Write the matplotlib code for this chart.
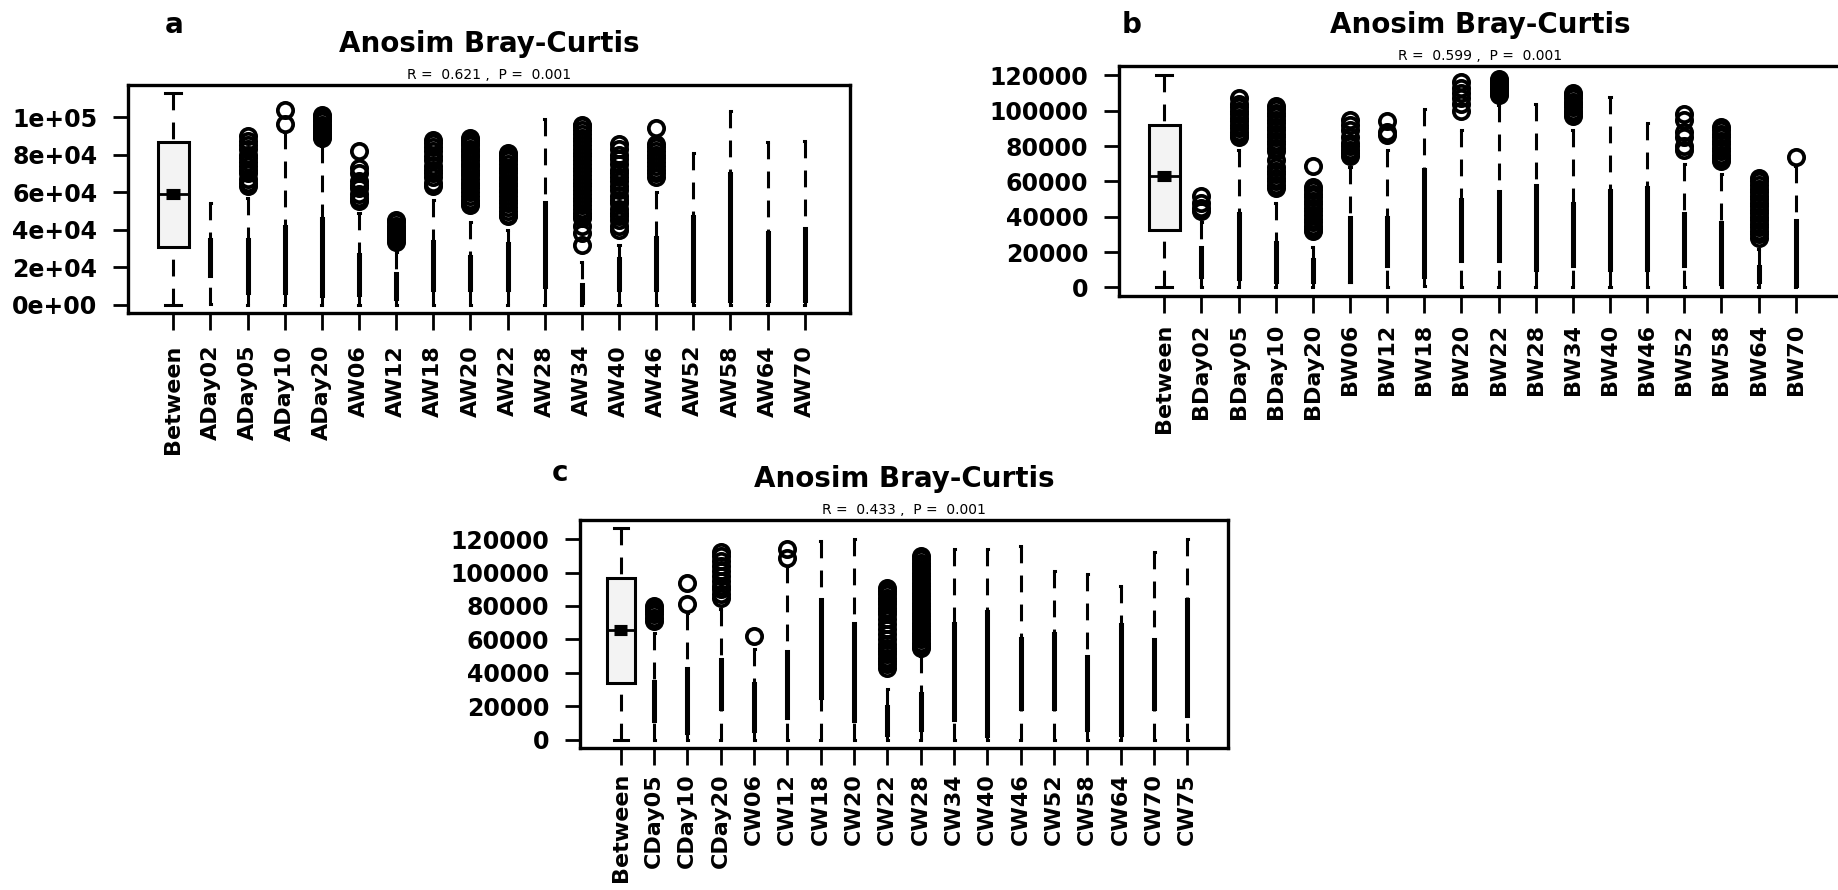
import matplotlib.pyplot as plt

W, H = 1838, 890

# ---- panel a (values in thousands) ----
groups_a = ['Between', 'ADay02', 'ADay05', 'ADay10', 'ADay20', 'AW06', 'AW12', 'AW18', 'AW20',
            'AW22', 'AW28', 'AW34', 'AW40', 'AW46', 'AW52', 'AW58', 'AW64', 'AW70']
whislo_a = [0, 0.5, 0, 0, 0, 0, 0, 0, 0, 0, 0, 0, 0, 0, 0, 0, 0, 0]
q1_a = [30.8, 15, 6, 6, 4.5, 5, 3, 8, 8, 8, 9.6, 1, 8, 8, 2, 2, 2, 2]
med_a = [59.2, 25, 20, 22, 25, 16, 10, 20, 17, 20, 32, 6, 16, 22, 24, 32, 20, 21]
q3_a = [86.8, 35, 35, 42, 46, 27, 17, 34, 26, 33, 54.5, 11, 25, 36, 47, 70, 38.5, 41]
whishi_a = [112.6, 54, 57, 92, 84.5, 49, 28, 56, 44, 40, 99, 22.5, 32, 60, 80.7, 103, 86.5, 87]
outliers_a = {
    'ADay05': [90, 87, 85, 83, 80, 78, 76, 74, 72, 70, 67, 65, 63],
    'ADay10': [104, 96.5],
    'ADay20': [101, 100, 99, 98, 96, 95, 94, 93, 92, 91, 90, 89],
    'AW06': [82, 73, 70, 66, 64, 62, 59, 57, 55],
    'AW12': [45, 44, 42, 41, 40, 39, 38, 37, 36, 35, 33.5],
    'AW18': [88, 86, 84, 82, 79, 77, 74, 72, 70, 68, 65, 63],
    'AW20': [89, 88, 86, 85, 83, 82, 80, 79, 77, 75, 74, 72, 70, 69, 67, 65, 64, 62, 60, 58,
             56, 54, 53],
    'AW22': [81, 80, 78, 77, 75, 73, 72, 70, 68, 67, 65, 63, 61, 60, 58, 56, 54, 52, 50, 48, 47],
    'AW34': [96, 95, 93, 91, 89, 87, 85, 83, 81, 79, 77, 75, 73, 71, 69, 67, 65, 63, 61, 59,
             57, 55, 53, 51, 49, 47, 46, 42, 38, 31.5],
    'AW40': [85.5, 83, 80, 77.5, 75, 72, 70, 68, 66, 63, 61, 58, 56, 54, 51, 49, 47, 45, 42, 40],
    'AW46': [94, 85.5, 84, 82, 80, 78, 76, 74, 72, 70, 68],
}
yticks_a = [0, 20000, 40000, 60000, 80000, 100000]
ylabels_a = ['0e+00', '2e+04', '4e+04', '6e+04', '8e+04', '1e+05']

# ---- panel b ----
groups_b = ['Between', 'BDay02', 'BDay05', 'BDay10', 'BDay20', 'BW06', 'BW12', 'BW18', 'BW20',
            'BW22', 'BW28', 'BW34', 'BW40', 'BW46', 'BW52', 'BW58', 'BW64', 'BW70']
whislo_b = [0, 0, 0, 0, 0, 3, 0, 1, 0, 0, 0, 0, 0, 0, 0, 0, 0, 0]
q1_b = [32.8, 6, 5, 3, 3, 3, 12, 6, 15, 15, 10, 12, 10, 10, 12, 2, 3, 1]
med_b = [63, 15, 22, 14, 9, 20, 25, 35, 32, 35, 34, 30, 33, 33, 27, 20, 7, 20]
q3_b = [91.7, 23, 42, 26, 16, 40, 40, 67, 50, 54.5, 58, 48, 55, 57, 42, 37, 12, 38]
whishi_b = [120.5, 37, 78, 48, 23, 68, 78, 101, 89, 103, 104, 89, 108, 93, 70, 64, 22, 69]
outliers_b = {
    'BDay02': [52, 48, 45, 43],
    'BDay05': [107, 104, 102, 100, 98, 96, 94, 92, 90, 88, 86, 85],
    'BDay10': [102.5, 101, 99, 97, 95, 93, 91, 89, 87, 85, 83, 81, 79, 77, 72, 68, 66, 64, 62,
               60, 58, 56.5],
    'BDay20': [68.7, 57, 55, 53, 51, 49, 47, 45, 43, 41, 39, 37, 35, 33, 32],
    'BW06': [95, 92, 89, 85, 82, 80, 78, 76, 74.5],
    'BW12': [94, 88, 86],
    'BW20': [116, 113, 110, 107, 104, 100],
    'BW22': [118, 117, 116, 115, 114, 113, 112, 111, 110, 109],
    'BW34': [110, 109, 107, 105, 104, 102, 100, 98.5, 97],
    'BW52': [98, 95, 88, 85, 80, 78],
    'BW58': [91, 89, 87, 85, 83, 81, 79, 77, 75, 73, 71.5],
    'BW64': [62, 60, 58, 56, 54, 52, 50, 48, 46, 44, 42, 40, 38, 36, 34, 32, 30, 28],
    'BW70': [74],
}
yticks_bc = [0, 20000, 40000, 60000, 80000, 100000, 120000]
ylabels_bc = ['0', '20000', '40000', '60000', '80000', '100000', '120000']

# ---- panel c ----
groups_c = ['Between', 'CDay05', 'CDay10', 'CDay20', 'CW06', 'CW12', 'CW18', 'CW20', 'CW22',
            'CW28', 'CW34', 'CW40', 'CW46', 'CW52', 'CW58', 'CW64', 'CW70', 'CW75']
whislo_c = [0, 0, 0, 0, 0, 0, 0, 0, 0, 0, 0, 0, 0, 0, 0, 0, 0, 0]
q1_c = [34, 11, 4, 18, 5, 13, 25, 11, 3, 6, 12, 2, 18, 18, 6, 3, 18, 14]
med_c = [65.6, 25, 20, 32, 18, 32, 50, 40, 10, 16, 40, 40, 40, 40, 28, 35, 38, 50]
q3_c = [97, 35, 43, 48, 34, 53, 84, 70, 20, 28, 70, 77, 61, 64, 50, 69, 60, 84]
whishi_c = [126.4, 64, 76, 78, 54, 104, 119, 120, 30, 50, 114, 114, 116, 101, 99, 92, 112, 120]
outliers_c = {
    'CDay05': [80, 78, 77, 75, 73, 71],
    'CDay10': [94, 81],
    'CDay20': [112, 110, 107, 104, 101, 98, 95, 92, 90, 87, 85],
    'CW06': [62],
    'CW12': [114, 109],
    'CW22': [91, 89, 87, 85, 83, 81, 79, 77, 75, 72, 69, 66, 63, 60, 57, 55, 53, 51, 49, 47,
             45, 43],
    'CW28': [110, 108, 106, 104, 102, 100, 98, 96, 94, 92, 90, 88, 86, 84, 82, 80, 78, 76, 74,
             72, 70, 68, 66, 64, 62, 60, 58, 56, 55],
}

fig = plt.figure(figsize=(W / 100, H / 100), dpi=100)


def axes_px(left, top, right, bottom):
    return fig.add_axes([left / W, 1 - bottom / H, (right - left) / W, (bottom - top) / H])


def panel(ax, groups, lo, q1, med, q3, hi, outliers, stat, yticks, ylabels, narrow, xpad):
    pos = list(range(1, len(groups) + 1))
    k = 1000
    stats = []
    for i, g in enumerate(groups):
        stats.append(dict(label=g, whislo=lo[i] * k, q1=q1[i] * k, med=med[i] * k,
                          q3=q3[i] * k, whishi=hi[i] * k,
                          fliers=[v * k for v in outliers.get(g, [])]))
    widths = [0.85] + [narrow] * (len(groups) - 1)
    art = ax.bxp(stats, positions=pos, widths=widths, patch_artist=True, manage_ticks=False,
                 boxprops=dict(facecolor='#f3f3f3', edgecolor='black', linewidth=2.2),
                 whiskerprops=dict(color='black', linewidth=2.2, linestyle=(0, (5.5, 4))),
                 capprops=dict(color='black', linewidth=2.2),
                 medianprops=dict(color='black', linewidth=2),
                 flierprops=dict(marker='o', markerfacecolor='none', markeredgecolor='black',
                                 markersize=11, markeredgewidth=2.7))
    # dashes start at the whisker end, as in R
    for line in art['whiskers']:
        line.set_ydata(line.get_ydata()[::-1])
    # heavy median mark inside the Between box
    ax.plot([pos[0] - 0.19, pos[0] + 0.19], [med[0] * k, med[0] * k], color='black', lw=8,
            solid_capstyle='butt')

    vals = lo + hi + [v for g in groups for v in outliers.get(g, [])]
    vmin, vmax = min(vals) * k, max(vals) * k
    pad = 0.04 * (vmax - vmin)
    ax.set_ylim(vmin - pad, vmax + pad)
    n = len(groups)
    ax.set_xlim(0.5 - 0.04 * n, n + 0.5 + 0.04 * n)

    ax.set_xticks(pos, groups, rotation=90, fontsize=16, fontweight='bold')
    ax.set_yticks(yticks, ylabels, fontsize=17, fontweight='bold')
    ax.tick_params(axis='x', length=12, width=2, pad=xpad)
    ax.tick_params(axis='y', length=11, width=2, pad=11)
    for s in ax.spines.values():
        s.set_linewidth(2.4)

    ax.annotate('Anosim Bray-Curtis', xy=(0.5, 1), xycoords='axes fraction', xytext=(0, 23.5),
                textcoords='offset points', ha='center', va='baseline', fontsize=20,
                fontweight='bold')
    ax.annotate(stat, xy=(0.5, 1), xycoords='axes fraction', xytext=(0, 4.3),
                textcoords='offset points', ha='center', va='baseline', fontsize=10)


ax_a = axes_px(128, 85, 850, 313)
panel(ax_a, groups_a, whislo_a, q1_a, med_a, q3_a, whishi_a, outliers_a,
      'R =  0.621 ,  P =  0.001', yticks_a, ylabels_a, 0.055, 11)

ax_b = axes_px(1119, 66, 1841, 296)
panel(ax_b, groups_b, whislo_b, q1_b, med_b, q3_b, whishi_b, outliers_b,
      'R =  0.599 ,  P =  0.001', yticks_bc, ylabels_bc, 0.055, 8)

ax_c = axes_px(580, 520, 1228, 748)
panel(ax_c, groups_c, whislo_c, q1_c, med_c, q3_c, whishi_c, outliers_c,
      'R =  0.433 ,  P =  0.001', yticks_bc, ylabels_bc, 0.06, 6)

fig.text(174 / W, 1 - 33 / H, 'a', ha='center', va='baseline', fontsize=20, fontweight='bold')
fig.text(1132 / W, 1 - 33 / H, 'b', ha='center', va='baseline', fontsize=20, fontweight='bold')
fig.text(560 / W, 1 - 481 / H, 'c', ha='center', va='baseline', fontsize=20, fontweight='bold')

fig.savefig('out.png', dpi=100)
